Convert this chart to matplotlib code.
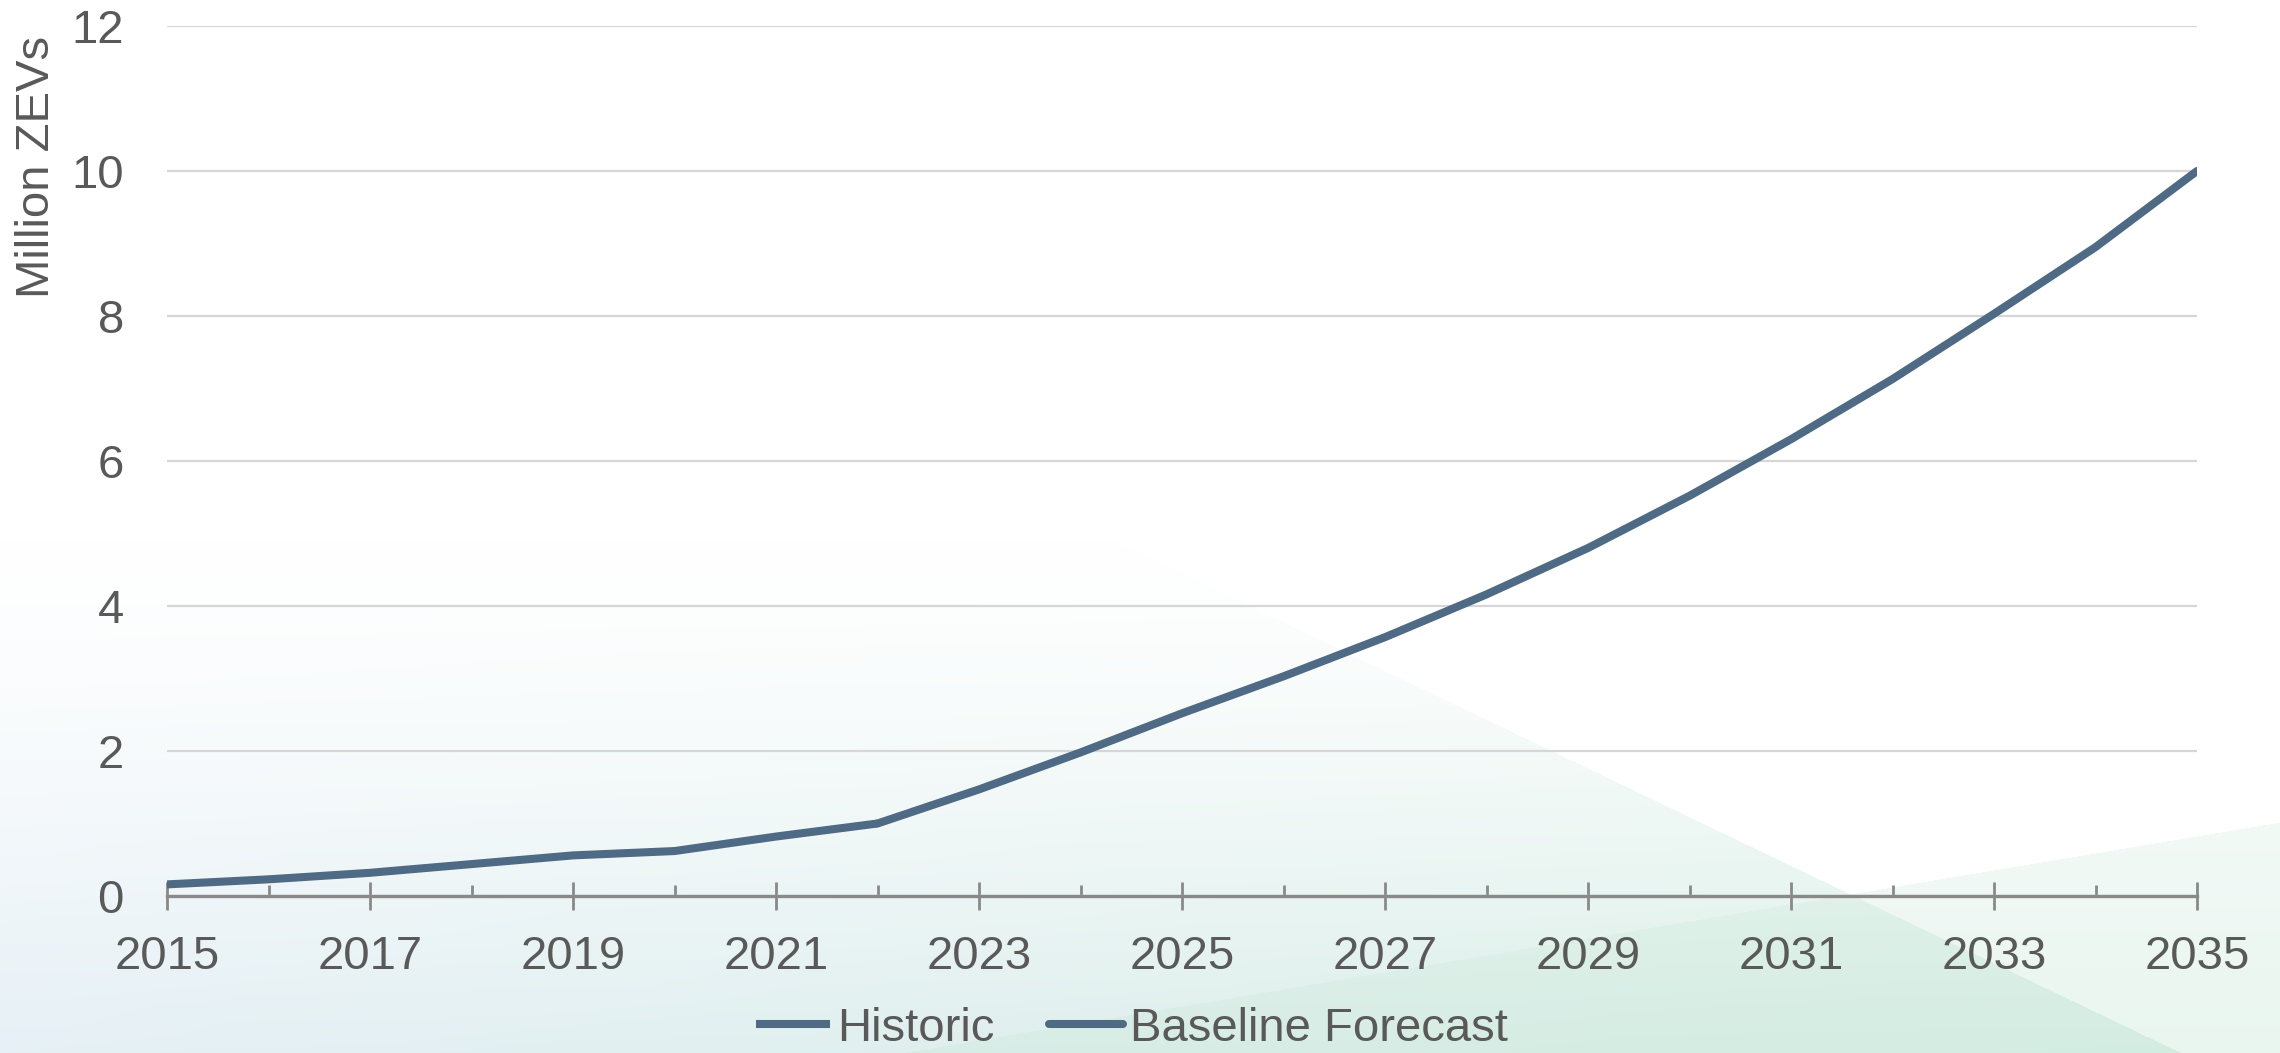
import numpy as np
import matplotlib
matplotlib.use('Agg')
from matplotlib import pyplot as plt

# data
hist_years = [2015, 2016, 2017, 2018, 2019, 2020, 2021, 2022]
hist_values = [0.16, 0.23, 0.32, 0.44, 0.56, 0.62, 0.82, 1.00]
fcst_years = [2022, 2023, 2024, 2025, 2026, 2027, 2028, 2029,
              2030, 2031, 2032, 2033, 2034, 2035]
fcst_values = [1.00, 1.47, 1.98, 2.52, 3.03, 3.57, 4.16, 4.80,
               5.52, 6.30, 7.13, 8.03, 8.95, 10.0]
series_names = ['Historic', 'Baseline Forecast']
y_ticks = [0, 2, 4, 6, 8, 10, 12]
x_ticks = list(range(2015, 2036, 2))

line_color = '#4F6A84'
text_color = '#595959'

plt.rcParams['font.family'] = ['Liberation Sans', 'DejaVu Sans']

W, H = 2280, 1053
fig = plt.figure(figsize=(W / 100, H / 100), dpi=100)

# slide-like background: soft gradient plus two tinted shapes
yy, xx = np.mgrid[0:H, 0:W]
blue = np.array([0xe6, 0xf0, 0xf6]) / 255
green = np.array([0xd6, 0xee, 0xe3]) / 255
deep_green = np.array([0xcf, 0xea, 0xdd]) / 255
fx = (xx / W)[..., None]
col_a = blue * (1 - fx) + green * fx
s_a = (np.clip((yy - 540) / (H - 540), 0, 1) ** 1.3)[..., None]
in_a = (yy > 676 + 0.48 * (xx - 1396))[..., None]
img = np.ones((H, W, 3))
img = np.where(in_a, img * (1 - s_a) + col_a * s_a, img)
in_b = (yy > 1053 - 0.1675 * (xx - 901))[..., None]
s_b = (0.25 + 0.2 * np.clip((yy - 800) / 253, 0, 1))[..., None]
img = np.where(in_b, img * (1 - s_b) + deep_green * s_b, img)

bg = fig.add_axes([0, 0, 1, 1], zorder=-1)
bg.imshow(img, aspect='auto', extent=(0, 1, 0, 1), origin='upper')
bg.axis('off')

ax = fig.add_axes([167 / W, 1 - 896 / H, (2197 - 167) / W, (896 - 26) / H])
ax.patch.set_alpha(0)

ax.plot(hist_years, hist_values, color=line_color, lw=5.8,
        solid_capstyle='butt', solid_joinstyle='round', label=series_names[0], zorder=3)
ax.plot(fcst_years, fcst_values, color=line_color, lw=5.8,
        solid_capstyle='round', solid_joinstyle='round', label=series_names[1], zorder=3)

ax.set_xlim(2015, 2035)
ax.set_ylim(0, 12)
ax.set_yticks(y_ticks)
ax.set_xticks(x_ticks)
ax.set_xticks(range(2016, 2035, 2), minor=True)
ax.grid(axis='y', color='#d6d6d6', lw=1.6, zorder=0)
ax.set_axisbelow(True)

for s in ['top', 'right', 'left']:
    ax.spines[s].set_visible(False)
ax.spines['bottom'].set_color('#898989')
ax.spines['bottom'].set_linewidth(2.4)
ax.spines['bottom'].set_zorder(2)

ax.tick_params(axis='x', which='major', direction='inout', length=20, width=2,
               color='#898989', pad=18, labelsize=34, labelcolor=text_color)
ax.tick_params(axis='x', which='minor', direction='in', length=8, width=2,
               color='#898989')
ax.tick_params(axis='y', length=0, pad=31, labelsize=34, labelcolor=text_color)

fig.text(37 / W, 1 - 167 / H, 'Million ZEVs', rotation=90, ha='center', va='center',
         fontsize=34, color=text_color)

handles, labels = ax.get_legend_handles_labels()
fig.legend(handles, labels, loc='center', bbox_to_anchor=(0.4965, 0.0228), ncol=2,
           frameon=False, fontsize=34, labelcolor=text_color, handlelength=1.56,
           handletextpad=0.15, columnspacing=1.15, borderpad=0, borderaxespad=0)

fig.savefig('out.png', dpi=100)
